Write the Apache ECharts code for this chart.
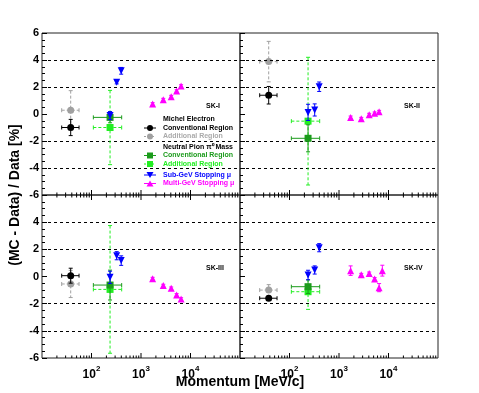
<!DOCTYPE html>
<html>
<head>
<meta charset="utf-8">
<style>
  * { margin: 0; padding: 0; }
  #container { width: 479px; height: 393px; background: #fff; }
</style>
</head>
<body>
<div id="container"></div>
<script src="https://cdn.jsdelivr.net/npm/echarts@6/dist/echarts.min.js"></script>
<script>
var phases = ['SK-I', 'SK-II', 'SK-III', 'SK-IV'];

// momentum (MeV/c) of each sample, with horizontal range
var michelP = 38, michelLo = 25, michelHi = 56;
var pi0P = 237, pi0Lo = 109, pi0Hi = 407;
var subGeVP = [237, 323, 398];
var multiGeVP = [1718, 2818, 4074, 5248, 6457, 7500];

// (MC - Data) / Data [%] per phase
var michelConvVal = [-1.0, 1.39, 0.06, -1.6];
var michelConvErr = [0.6, 0.65, 0.55, 0.12];
var michelAddVal = [0.28, 3.88, -0.55, -1.0];
var michelAddErr = [1.45, 1.5, 1.0, 0.4];
var pi0ConvVal = [-0.25, -1.8, -0.63, -0.75];
var pi0ConvErr = [0.4, 1.0, 1.1, 0.5];
var pi0AddVal = [-1.0, -0.53, -0.95, -1.12];
var pi0AddErr = [2.75, 4.73, 4.7, 1.3];
var subGeVVal = [[-0.12, 2.35, 3.2], [0.12, 0.3, 2.02], [-0.06, 1.53, 1.17], [0.11, 0.48, 2.12]];
var subGeVErr = [[0.3, 0.12, 0.25], [0.6, 0.45, 0.35], [0.45, 0.3, 0.35], [0.35, 0.3, 0.3]];
var multiGeVVal = [[0.74, 1.06, 1.28, 1.7, 2.07], [-0.25, -0.35, -0.05, 0.05, 0.17],
                   [-0.16, -0.67, -0.87, -1.36, -1.66], [0.43, 0.13, 0.23, -0.18, -0.82, 0.43]];
var multiGeVErr = [[0.1, 0.1, 0.1, 0.1, 0.1], [0.1, 0.1, 0.1, 0.1, 0.1],
                   [0.1, 0.1, 0.1, 0.1, 0.1], [0.35, 0.1, 0.1, 0.1, 0.3, 0.4]];

var xMajorTicks = [100, 1000, 10000];
var yGridLines = [4, 2, -2, -4];

var FONT = "'Liberation Sans', Arial, sans-serif";
var cBlack = '#000', cGray = '#a0a0a0', cGreen = '#1b9b1b', cLight = '#22ee22', cBlue = '#0000ff', cMag = '#ff00ff';

var xMinorTicks = [];
for (var d = 10; d < 100000; d *= 10) {
  for (var k = 2; k <= 9; k++) xMinorTicks.push(k * d);
}

var grids = [
  {left: 42, top: 33, width: 198, height: 162},
  {left: 240, top: 33, width: 198, height: 162},
  {left: 42, top: 195, width: 198, height: 163},
  {left: 240, top: 195, width: 198, height: 163}
];

function errRender(color, dash) {
  return function (params, api) {
    var x = api.value(0), y = api.value(1), xl = api.value(2), xh = api.value(3), ye = api.value(4);
    var st = {stroke: color, lineWidth: 1, lineDash: dash};
    var ch = [];
    if (ye > 0) {
      var t = api.coord([x, y + ye]), b = api.coord([x, y - ye]);
      ch.push({type: 'line', shape: {x1: t[0], y1: t[1], x2: b[0], y2: b[1]}, style: st});
      ch.push({type: 'line', shape: {x1: t[0] - 2, y1: t[1], x2: t[0] + 2, y2: t[1]}, style: {stroke: color, lineWidth: 1}});
      ch.push({type: 'line', shape: {x1: b[0] - 2, y1: b[1], x2: b[0] + 2, y2: b[1]}, style: {stroke: color, lineWidth: 1}});
    }
    if (xh > xl) {
      var l = api.coord([xl, y]), r = api.coord([xh, y]);
      ch.push({type: 'line', shape: {x1: l[0], y1: l[1], x2: r[0], y2: r[1]}, style: st});
      ch.push({type: 'line', shape: {x1: l[0], y1: l[1] - 2, x2: l[0], y2: l[1] + 2}, style: {stroke: color, lineWidth: 1}});
      ch.push({type: 'line', shape: {x1: r[0], y1: r[1] - 2, x2: r[0], y2: r[1] + 2}, style: {stroke: color, lineWidth: 1}});
    }
    return {type: 'group', children: ch};
  };
}

function tickRender(topToo) {
  return function (params, api) {
    var v = api.value(0), len = api.value(1);
    var b = api.coord([v, -6]), t = api.coord([v, 6]);
    var ch = [{type: 'line', shape: {x1: b[0], y1: b[1], x2: b[0], y2: b[1] - len}, style: {stroke: '#000', lineWidth: 1}}];
    if (topToo) ch.push({type: 'line', shape: {x1: t[0], y1: t[1], x2: t[0], y2: t[1] + len}, style: {stroke: '#000', lineWidth: 1}});
    return {type: 'group', children: ch};
  };
}

var xAxes = [], yAxes = [], series = [];
grids.forEach(function (g, i) {
  var bottomRow = i >= 2, leftCol = i % 2 === 0;
  xAxes.push({
    type: 'log', logBase: 10, min: 10, max: 100000, gridIndex: i,
    axisLine: {show: false}, axisTick: {show: false}, splitLine: {show: false},
    axisLabel: {
      show: bottomRow, margin: 7, color: '#000',
      formatter: function (v) {
        var e = Math.round(Math.log10(v));
        if (e < 2 || e > 4) return '';
        return '{b|10}{s|' + e + '}';
      },
      rich: {
        b: {fontFamily: FONT, fontSize: 12, fontWeight: 'bold', color: '#000', verticalAlign: 'bottom', lineHeight: 16},
        s: {fontFamily: FONT, fontSize: 8, fontWeight: 'bold', color: '#000', verticalAlign: 'top', lineHeight: 16}
      }
    }
  });
  yAxes.push({
    type: 'value', min: -6, max: 6, interval: 2, gridIndex: i,
    axisLine: {show: false}, splitLine: {show: false},
    axisTick: {show: true, inside: true, length: 5, lineStyle: {color: '#000'}},
    minorTick: {show: true, splitNumber: 4, length: 3, lineStyle: {color: '#000'}},
    axisLabel: {show: leftCol, showMaxLabel: !bottomRow, margin: 3, color: '#000', fontFamily: FONT, fontSize: 11, fontWeight: 'bold'}
  });

  var ticks = xMajorTicks.map(function (v) { return [v, 5]; })
    .concat(xMinorTicks.map(function (v) { return [v, 2.5]; }));
  series.push({type: 'custom', xAxisIndex: i, yAxisIndex: i, data: ticks, renderItem: tickRender(bottomRow), silent: true, z: 1,
    markLine: {
      silent: true, symbol: 'none', label: {show: false},
      lineStyle: {color: '#000', type: [3, 3], width: 1},
      data: yGridLines.map(function (v) { return {yAxis: v}; })
    }
  });

  var sets = [
    {data: [[michelP, michelAddVal[i], michelLo, michelHi, michelAddErr[i]]], color: cGray, dash: [3, 2], symbol: 'circle'},
    {data: [[michelP, michelConvVal[i], michelLo, michelHi, michelConvErr[i]]], color: cBlack, dash: null, symbol: 'circle'},
    {data: [[pi0P, pi0AddVal[i], pi0Lo, pi0Hi, pi0AddErr[i]]], color: cLight, dash: [3, 2], symbol: 'rect'},
    {data: [[pi0P, pi0ConvVal[i], pi0Lo, pi0Hi, pi0ConvErr[i]]], color: cGreen, dash: null, symbol: 'rect'},
    {data: subGeVVal[i].map(function (v, j) { return [subGeVP[j], v, subGeVP[j], subGeVP[j], subGeVErr[i][j]]; }),
      color: cBlue, dash: null, symbol: 'triangle', rotate: 180},
    {data: multiGeVVal[i].map(function (v, j) { return [multiGeVP[j], v, multiGeVP[j], multiGeVP[j], multiGeVErr[i][j]]; }),
      color: cMag, dash: null, symbol: 'triangle'}
  ];
  sets.forEach(function (s, k) {
    series.push({type: 'custom', xAxisIndex: i, yAxisIndex: i, data: s.data, renderItem: errRender(s.color, s.dash), silent: true, z: 2 + k * 2});
    series.push({type: 'scatter', xAxisIndex: i, yAxisIndex: i, data: s.data.map(function (p) { return [p[0], p[1]]; }),
      symbol: s.symbol, symbolRotate: s.rotate || 0, symbolSize: 7, itemStyle: {color: s.color, opacity: 1}, silent: true, z: 3 + k * 2});
  });
});

var graphics = [];
phases.forEach(function (name, i) {
  var g = grids[i];
  graphics.push({type: 'text', x: g.left + 164, y: g.top + (i < 2 ? 73 : 73), z: 50,
    style: {text: name, fontFamily: FONT, fontSize: 7, fontWeight: 'bold', fill: '#000', verticalAlign: 'middle'}});
});

// legend drawn inside the SK-I panel
var legendItems = [
  {text: 'Michel Electron', color: '#000', y: 119},
  {text: 'Conventional Region', color: '#000', y: 128, mark: 'circle', mc: cBlack},
  {text: 'Additional Region', color: '#aaa', y: 136.5, mark: 'circle', mc: cGray, dash: [2, 2]},
  {text: 'Neutral Pion \u03c0\u2070 Mass', color: '#000', y: 147},
  {text: 'Conventional Region', color: cGreen, y: 155.5, mark: 'rect', mc: cGreen},
  {text: 'Additional Region', color: cLight, y: 164, mark: 'rect', mc: cLight, dash: [2, 2]},
  {text: 'Sub-GeV Stopping \u03bc', color: cBlue, y: 175, mark: 'down', mc: cBlue},
  {text: 'Multi-GeV Stopping \u03bc', color: cMag, y: 183.5, mark: 'up', mc: cMag}
];
legendItems.forEach(function (it) {
  graphics.push({type: 'text', x: 163, y: it.y, z: 50,
    style: {text: it.text, fontFamily: FONT, fontSize: 7, fontWeight: 'bold', fill: it.color, verticalAlign: 'middle'}});
  if (!it.mark) return;
  graphics.push({type: 'line', z: 50, shape: {x1: 144, y1: it.y, x2: 156, y2: it.y}, style: {stroke: it.mc, lineWidth: 1, lineDash: it.dash || null}});
  var m;
  if (it.mark === 'circle') m = {type: 'circle', shape: {cx: 150, cy: it.y, r: 3}};
  else if (it.mark === 'rect') m = {type: 'rect', shape: {x: 147, y: it.y - 3, width: 6, height: 6}};
  else if (it.mark === 'down') m = {type: 'polygon', shape: {points: [[146.5, it.y - 3], [153.5, it.y - 3], [150, it.y + 3]]}};
  else m = {type: 'polygon', shape: {points: [[146.5, it.y + 3], [153.5, it.y + 3], [150, it.y - 3]]}};
  m.z = 51; m.style = {fill: it.mc};
  graphics.push(m);
});

graphics.push({type: 'text', x: 15, y: 195, rotation: Math.PI / 2, z: 50,
  style: {text: '(MC - Data) / Data [%]', fontFamily: FONT, fontSize: 14, fontWeight: 'bold', fill: '#000', align: 'center', verticalAlign: 'middle'}});
graphics.push({type: 'text', x: 240, y: 382, z: 50,
  style: {text: 'Momentum [MeV/c]', fontFamily: FONT, fontSize: 14, fontWeight: 'bold', fill: '#000', align: 'center', verticalAlign: 'middle'}});

var chart = echarts.init(document.getElementById('container'));
chart.setOption({
  animation: false,
  backgroundColor: '#fff',
  grid: grids.map(function (g) { return Object.assign({show: true, borderColor: '#222', borderWidth: 1, backgroundColor: 'transparent'}, g); }),
  xAxis: xAxes,
  yAxis: yAxes,
  series: series,
  graphic: graphics
});
</script>
</body>
</html>
